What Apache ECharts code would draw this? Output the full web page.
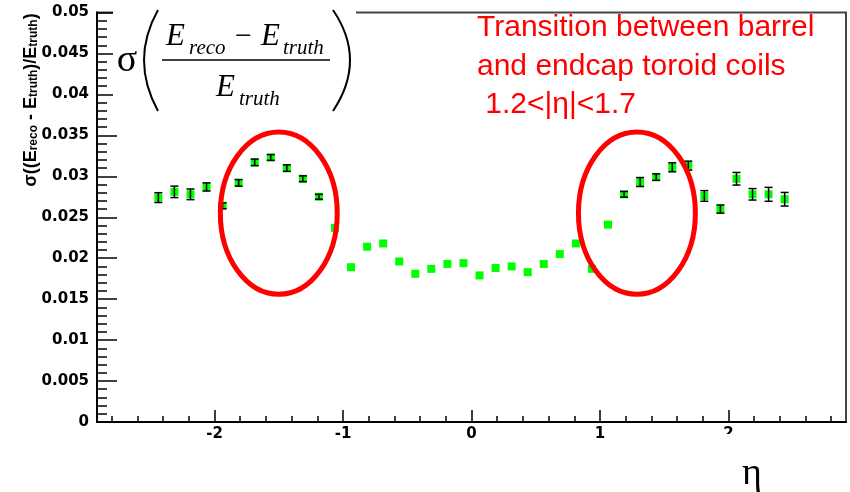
<!DOCTYPE html>
<html>
<head>
<meta charset="utf-8">
<script src="https://cdn.jsdelivr.net/npm/echarts@6/dist/echarts.min.js"></script>
<style>html,body{margin:0;padding:0;background:#fff}#c{width:850px;height:492px}</style>
</head>
<body>
<div id="c"></div>
<script>
// ---- data ----
const etaBins = [-2.4375,-2.3125,-2.1875,-2.0625,-1.9375,-1.8125,-1.6875,-1.5625,-1.4375,-1.3125,
  -1.1875,-1.0625,-0.9375,-0.8125,-0.6875,-0.5625,-0.4375,-0.3125,-0.1875,-0.0625,
  0.0625,0.1875,0.3125,0.4375,0.5625,0.6875,0.8125,0.9375,1.0625,1.1875,
  1.3125,1.4375,1.5625,1.6875,1.8125,1.9375,2.0625,2.1875,2.3125,2.4375];
const resolution = [0.0274,0.0281,0.0278,0.0287,0.0264,0.0292,0.0317,0.0323,0.0310,0.0297,
  0.0275,0.0237,0.0189,0.0214,0.0218,0.0196,0.0181,0.0187,0.0193,0.0194,
  0.0179,0.0188,0.0190,0.0183,0.0193,0.0205,0.0218,0.0187,0.0241,0.0278,
  0.0293,0.0299,0.0311,0.0313,0.0276,0.0260,0.0297,0.0278,0.0278,0.0272];
const resolutionErr = [0.0006,0.0007,0.00065,0.0005,0.00035,0.0004,0.0004,0.00035,0.0004,0.00035,
  0.0003,0,0,0,0,0,0,0,0,0,
  0,0,0,0,0,0,0,0,0,0.00035,
  0.00055,0.0004,0.00055,0.00055,0.00065,0.0005,0.00077,0.0007,0.00085,0.00083];
const xMajorTicks = [-2,-1,0,1,2];
const xMinorTicks = [-2.8,-2.6,-2.4,-2.2,-1.8,-1.6,-1.4,-1.2,-0.8,-0.6,-0.4,-0.2,
  0.2,0.4,0.6,0.8,1.2,1.4,1.6,1.8,2.2,2.4,2.6,2.8];
const xRange = [-2.915, 2.915];
const yRange = [0, 0.05];
const yStep = 0.005;
// annotation ellipses (data coordinates): centre and half-axes
const ellipseCenters = [[-1.5, 0.0255], [1.2875, 0.0255]];
const ellipseHalfAxes = [0.455, 0.0099];
const noteLines = ['Transition between barrel', 'and endcap toroid coils', ' 1.2<|\u03b7|<1.7'];

const chart = echarts.init(document.getElementById('c'), null, {renderer: 'canvas'});
const tickFont = {fontFamily: 'DejaVu Sans', fontWeight: 'bold', fontSize: 15, color: '#000'};

const option = {
  animation: false,
  backgroundColor: '#fff',
  grid: {left: 97, right: 4, top: 12.5, bottom: 70, show: true, borderColor: '#444', borderWidth: 2, backgroundColor: 'transparent'},
  xAxis: [
    {type: 'value', position: 'bottom', min: xRange[0], max: xRange[1],
     axisLine: {show: true, onZero: false, lineStyle: {color: '#000', width: 2}},
     axisTick: {show: true, inside: true, length: 12, lineStyle: {color: '#000', width: 1.5}, customValues: xMajorTicks},
     axisLabel: Object.assign({show: true, margin: 5, customValues: xMajorTicks,
       formatter: v => String(v)}, tickFont),
     splitLine: {show: false}},
    {type: 'value', position: 'bottom', min: xRange[0], max: xRange[1],
     axisLine: {show: false, onZero: false},
     axisTick: {show: true, inside: true, length: 6, lineStyle: {color: '#000', width: 1.5}, customValues: xMinorTicks},
     axisLabel: {show: false}, splitLine: {show: false}}
  ],
  yAxis: {type: 'value', position: 'left', min: yRange[0], max: yRange[1], interval: yStep,
    axisLine: {show: true, onZero: false, lineStyle: {color: '#000', width: 2}},
    axisTick: {show: true, inside: true, length: 20, lineStyle: {color: '#000', width: 1.5}},
    minorTick: {show: true, splitNumber: 5, length: 10, lineStyle: {color: '#000', width: 1.5}},
    axisLabel: Object.assign({margin: 8, formatter: v => String(+v.toFixed(3))}, tickFont),
    splitLine: {show: false}, minorSplitLine: {show: false}},
  series: [
    {type: 'scatter', xAxisIndex: 0, symbol: 'rect', symbolSize: 8,
     itemStyle: {color: '#00ff00', opacity: 1}, z: 3,
     data: etaBins.map((x, i) => [x, resolution[i]])},
    {type: 'custom', xAxisIndex: 0, z: 4,
     data: etaBins.map((x, i) => [x, resolution[i], resolutionErr[i]]),
     renderItem: function (params, api) {
       const e = api.value(2);
       if (!e) return {type: 'group', children: []};
       const lo = api.coord([api.value(0), api.value(1) - e]);
       const hi = api.coord([api.value(0), api.value(1) + e]);
       const hw = 4;
       const st = {stroke: '#000', lineWidth: 1.5};
       return {type: 'group', children: [
         {type: 'line', shape: {x1: lo[0], y1: lo[1], x2: hi[0], y2: hi[1]}, style: st},
         {type: 'line', shape: {x1: lo[0] - hw, y1: lo[1], x2: lo[0] + hw, y2: lo[1]}, style: st},
         {type: 'line', shape: {x1: hi[0] - hw, y1: hi[1], x2: hi[0] + hw, y2: hi[1]}, style: st}
       ]};
     }}
  ]
};
chart.setOption(option);

// ---- annotations ----
const ellipses = ellipseCenters.map(c => {
  const p = chart.convertToPixel({xAxisIndex: 0, yAxisIndex: 0}, c);
  const q = chart.convertToPixel({xAxisIndex: 0, yAxisIndex: 0}, [c[0] + ellipseHalfAxes[0], c[1] + ellipseHalfAxes[1]]);
  return {type: 'ellipse', shape: {cx: p[0], cy: p[1], rx: q[0] - p[0], ry: p[1] - q[1]},
          style: {fill: null, stroke: '#ff0000', lineWidth: 5}, z: 20};
});

const serif = 'Liberation Serif';
const formula = [
  {type: 'rect', shape: {x: 113, y: 0, width: 243, height: 118}, style: {fill: '#fff'}, z: 10},
  {type: 'text', x: 127, y: 61, z: 11, style: {text: '\u03c3', font: '38px ' + serif, fill: '#000', align: 'center', verticalAlign: 'middle'}},
  {type: 'bezierCurve', z: 11, shape: {x1: 158, y1: 10, cpx1: 130, cpy1: 60, x2: 158, y2: 111}, style: {stroke: '#000', lineWidth: 2, fill: null}},
  {type: 'bezierCurve', z: 11, shape: {x1: 333, y1: 10, cpx1: 367, cpy1: 60, x2: 333, y2: 111}, style: {stroke: '#000', lineWidth: 2, fill: null}},
  {type: 'text', x: 166, y: 37, z: 11, style: {text: 'E', font: 'italic 31px ' + serif, fill: '#000', verticalAlign: 'middle'}},
  {type: 'text', x: 189, y: 48, z: 11, style: {text: 'reco', font: 'italic 21px ' + serif, fill: '#000', verticalAlign: 'middle'}},
  {type: 'text', x: 235, y: 37, z: 11, style: {text: '\u2212', font: '30px ' + serif, fill: '#000', verticalAlign: 'middle'}},
  {type: 'text', x: 261, y: 37, z: 11, style: {text: 'E', font: 'italic 31px ' + serif, fill: '#000', verticalAlign: 'middle'}},
  {type: 'text', x: 283, y: 48, z: 11, style: {text: 'truth', font: 'italic 21px ' + serif, fill: '#000', verticalAlign: 'middle'}},
  {type: 'line', z: 11, shape: {x1: 162, y1: 60, x2: 330, y2: 60}, style: {stroke: '#000', lineWidth: 1.5}},
  {type: 'text', x: 216, y: 88, z: 11, style: {text: 'E', font: 'italic 31px ' + serif, fill: '#000', verticalAlign: 'middle'}},
  {type: 'text', x: 239, y: 99, z: 11, style: {text: 'truth', font: 'italic 21px ' + serif, fill: '#000', verticalAlign: 'middle'}}
];

const note = noteLines.map((t, i) => ({type: 'text', x: 477, y: 28 + i * 38.5, z: 12,
  style: {text: t, font: '30px "Liberation Sans"', fill: '#ff0000', verticalAlign: 'middle'}}));

const yTitle = {type: 'text', x: 31, y: 100, rotation: Math.PI / 2, z: 12,
  style: {text: '\u03c3((E{s|reco} - E{s|truth})/E{s|truth})', font: 'bold 18px "Liberation Sans"', fill: '#000',
          align: 'center', verticalAlign: 'middle',
          rich: {s: {fontSize: 12, fontWeight: 'bold', fontFamily: 'Liberation Sans', verticalAlign: 'bottom', lineHeight: 12}}}};

const etaTitle = [
  {type: 'rect', shape: {x: 690, y: 434, width: 110, height: 58}, style: {fill: '#fff'}, z: 10},
  {type: 'text', x: 752, y: 474, z: 11, style: {text: '\u03b7', font: '38px ' + serif, fill: '#000', align: 'center', verticalAlign: 'middle'}}
];

chart.setOption({graphic: [].concat(formula, note, [yTitle], etaTitle, ellipses)});
</script>
</body>
</html>
